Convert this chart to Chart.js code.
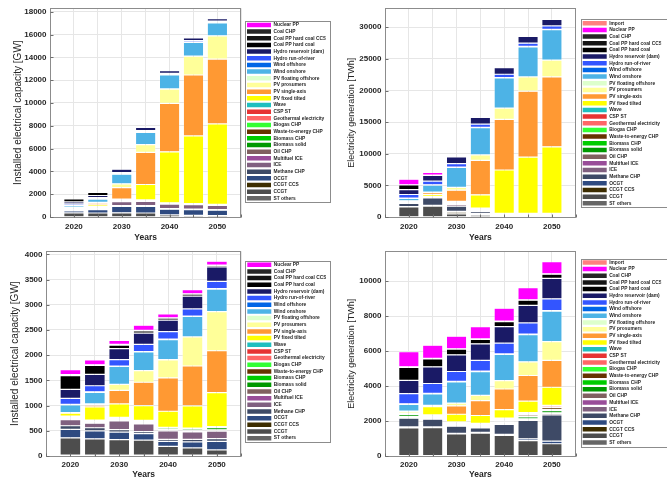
<!DOCTYPE html>
<html>
<head>
<meta charset="utf-8">
<script src="https://cdn.jsdelivr.net/npm/chart.js@4.4.1/dist/chart.umd.min.js"></script>
<style>
  html, body { margin: 0; padding: 0; background: #fff; }
  #wrap { position: relative; width: 667px; height: 479px; overflow: hidden; }
  canvas { position: absolute; }
</style>
</head>
<body>
<div id="wrap">
  <canvas id="capTopChart" width="335" height="243" style="left:0;top:0"></canvas>
  <canvas id="genTopChart" width="332" height="243" style="left:335px;top:0"></canvas>
  <canvas id="capBotChart" width="335" height="236" style="left:0;top:243px"></canvas>
  <canvas id="genBotChart" width="332" height="236" style="left:335px;top:243px"></canvas>
</div>
<script>
const years = [2020, 2025, 2030, 2035, 2040, 2045, 2050];

// stacking order, bottom to top (legend shows it reversed)
const techNames = [
  "ST others", "CCGT", "CCGT CCS", "OCGT", "Methane CHP", "ICE", "Multifuel ICE", "Oil CHP",
  "Biomass solid", "Biomass CHP", "Waste-to-energy CHP", "Biogas CHP", "Geothermal electricity",
  "CSP ST", "Wave", "PV fixed tilted", "PV single-axis", "PV prosumers", "PV floating offshore",
  "Wind onshore", "Wind offshore", "Hydro run-of-river", "Hydro reservoir (dam)",
  "Coal PP hard coal", "Coal PP hard coal CCS", "Coal CHP", "Nuclear PP", "Import"
];
const techColors = [
  "#666666", "#4d4d4d", "#3d2d00", "#2e4a80", "#3e4a66", "#806080", "#994d99", "#806060",
  "#009900", "#00cc00", "#663300", "#33ff33", "#ff6666",
  "#e63333", "#1fbfbf", "#ffff00", "#ff9933", "#ffff99", "#ddffcc",
  "#4db3e6", "#0066e6", "#3355ff", "#1a1a66",
  "#000000", "#141414", "#262626", "#ff00ff", "#ff8080"
];

// installed capacity [GW], upper chart, one row per technology
const capTop = [
  [20, 20, 20, 20, 20, 20, 20],
  [340, 330, 350, 330, 160, 130, 110],
  [0, 0, 0, 0, 0, 0, 0],
  [170, 300, 550, 580, 500, 500, 460],
  [70, 60, 70, 60, 50, 50, 50],
  [120, 100, 350, 380, 400, 380, 380],
  [10, 20, 60, 40, 60, 50, 50],
  [20, 10, 20, 10, 10, 10, 10],
  [20, 30, 30, 30, 20, 15, 15],
  [5, 10, 10, 10, 5, 5, 5],
  [5, 10, 10, 10, 5, 5, 5],
  [5, 10, 10, 10, 5, 5, 5],
  [5, 10, 10, 10, 5, 5, 5],
  [3, 5, 10, 10, 5, 5, 5],
  [0, 0, 0, 0, 0, 0, 0],
  [55, 150, 60, 1350, 4470, 5930, 7040],
  [5, 150, 1020, 2820, 4255, 5340, 5690],
  [10, 60, 330, 670, 1250, 1650, 2030],
  [0, 0, 5, 10, 10, 10, 10],
  [150, 300, 840, 1070, 1220, 1190, 1130],
  [10, 30, 30, 40, 40, 40, 40],
  [120, 100, 100, 120, 110, 120, 110],
  [180, 180, 300, 280, 230, 250, 230],
  [270, 280, 0, 0, 0, 0, 0],
  [0, 0, 0, 0, 0, 0, 0],
  [20, 40, 0, 0, 0, 0, 0],
  [100, 30, 0, 0, 0, 0, 0]
];

// electricity generation [TWh], upper chart
const genTop = [
  [30, 30, 30, 30, 0, 0, 0],
  [1570, 1700, 470, 270, 10, 10, 10],
  [0, 0, 250, 170, 0, 0, 0],
  [60, 100, 150, 100, 10, 10, 10],
  [500, 1200, 800, 300, 20, 20, 20],
  [60, 50, 250, 150, 10, 10, 10],
  [20, 20, 100, 100, 10, 10, 10],
  [20, 20, 50, 30, 10, 10, 10],
  [120, 50, 100, 120, 200, 200, 200],
  [40, 20, 50, 60, 80, 80, 80],
  [20, 20, 30, 20, 20, 20, 20],
  [10, 10, 20, 20, 20, 20, 20],
  [10, 20, 30, 30, 150, 150, 150],
  [5, 5, 10, 10, 30, 30, 30],
  [0, 0, 0, 0, 0, 0, 0],
  [80, 300, 150, 2100, 6860, 8900, 10530],
  [10, 300, 1750, 5450, 8010, 10420, 11050],
  [15, 100, 450, 840, 1780, 2250, 2660],
  [0, 0, 10, 10, 10, 10, 10],
  [380, 1100, 3150, 4300, 4760, 4760, 4810],
  [30, 50, 50, 50, 60, 60, 60],
  [580, 580, 550, 530, 520, 520, 520],
  [760, 900, 1050, 1050, 1050, 1050, 1050],
  [740, 50, 0, 0, 0, 0, 0],
  [0, 0, 0, 0, 0, 0, 0],
  [40, 20, 0, 0, 0, 0, 0],
  [870, 400, 0, 0, 0, 0, 0],
  [10, 10, 0, 0, 0, 0, 0]
];

// installed capacity [GW], lower chart
const capBot = [
  [20, 20, 20, 20, 20, 20, 20],
  [340, 320, 305, 295, 170, 140, 100],
  [0, 0, 0, 0, 0, 0, 0],
  [170, 160, 150, 130, 100, 120, 170],
  [70, 60, 50, 40, 40, 50, 55],
  [120, 90, 170, 150, 170, 150, 150],
  [10, 10, 15, 15, 15, 15, 15],
  [20, 10, 15, 15, 10, 10, 10],
  [20, 25, 25, 25, 25, 30, 40],
  [5, 5, 5, 5, 5, 5, 10],
  [5, 3, 3, 3, 3, 3, 3],
  [5, 2, 2, 2, 2, 2, 2],
  [5, 5, 5, 5, 5, 5, 5],
  [3, 3, 3, 3, 3, 5, 5],
  [0, 0, 0, 0, 0, 0, 0],
  [55, 260, 265, 290, 320, 440, 670],
  [5, 35, 270, 465, 660, 790, 833],
  [10, 25, 115, 230, 360, 575, 775],
  [0, 0, 2, 2, 2, 2, 2],
  [150, 230, 355, 368, 400, 405, 445],
  [10, 10, 10, 10, 10, 10, 10],
  [120, 120, 125, 140, 145, 140, 145],
  [180, 225, 220, 225, 230, 255, 285],
  [270, 180, 70, 45, 40, 40, 30],
  [0, 0, 0, 0, 0, 0, 0],
  [20, 10, 15, 10, 5, 5, 5],
  [100, 100, 80, 100, 80, 80, 80]
];

// electricity generation [TWh], lower chart
const genBot = [
  [30, 30, 30, 30, 30, 30, 30],
  [1570, 1590, 1230, 1280, 1150, 850, 670],
  [0, 0, 0, 0, 0, 0, 0],
  [60, 40, 40, 40, 60, 100, 150],
  [500, 440, 400, 260, 560, 1050, 1500],
  [60, 50, 40, 40, 50, 60, 80],
  [20, 20, 20, 20, 20, 20, 20],
  [20, 20, 20, 20, 20, 20, 20],
  [120, 80, 60, 50, 80, 100, 120],
  [40, 30, 30, 30, 40, 50, 60],
  [20, 20, 40, 60, 70, 90, 110],
  [10, 10, 10, 10, 20, 20, 30],
  [10, 10, 20, 20, 60, 70, 90],
  [5, 5, 5, 5, 10, 20, 20],
  [0, 0, 0, 0, 0, 0, 0],
  [80, 480, 440, 450, 480, 660, 1030],
  [10, 40, 480, 850, 1180, 1460, 1540],
  [15, 30, 150, 300, 480, 780, 1070],
  [0, 0, 5, 5, 5, 5, 5],
  [380, 650, 1220, 1350, 1490, 1550, 1740],
  [30, 30, 30, 30, 30, 30, 30],
  [580, 570, 560, 620, 620, 640, 670],
  [760, 950, 950, 940, 940, 1000, 1170],
  [740, 450, 330, 260, 290, 300, 240],
  [0, 0, 0, 0, 0, 0, 0],
  [40, 30, 20, 20, 20, 20, 20],
  [870, 760, 720, 700, 740, 700, 700],
  [10, 10, 10, 10, 10, 10, 0]
];

const FONT = "'Liberation Sans', Arial, Helvetica, sans-serif";
const TEXT = "#262626";

// axes box with short inward ticks, legend frame, and legend placement
const frames = {
  id: "frames",
  afterLayout(chart, args, o) {
    const lg = chart.legend;
    const pad = lg.options.labels.padding;
    const w = lg.width, h = lg.height;
    lg.left = o.lx - pad; lg.right = lg.left + w;
    lg.top = o.ly - pad; lg.bottom = lg.top + h;
  },
  afterDraw(chart, args, o) {
    const { ctx, chartArea: a, scales } = chart;
    const L = Math.round(a.left) + 0.5, T = Math.round(a.top) + 0.5;
    const R = Math.round(a.right) - 0.5, B = Math.round(a.bottom) + 0.5;
    ctx.save();
    ctx.strokeStyle = "#8c8c8c";
    ctx.lineWidth = 1;
    ctx.strokeRect(L, T, R - L, B - T);
    ctx.strokeStyle = "#6e6e6e";
    ctx.beginPath();
    scales.y.ticks.forEach((t) => {
      const y = Math.round(scales.y.getPixelForValue(t.value)) + 0.5;
      ctx.moveTo(L, y); ctx.lineTo(L + 3, y);
    });
    scales.x.ticks.forEach((t) => {
      const x = Math.round(scales.x.getPixelForValue(t.value)) + 0.5;
      ctx.moveTo(x, B); ctx.lineTo(x, B - 3);
    });
    ctx.stroke();
    ctx.strokeStyle = "#8c8c8c";
    const hb = chart.legend.legendHitBoxes;
    const t = hb[0].top, b = hb[hb.length - 1].top + hb[hb.length - 1].height;
    ctx.strokeRect(Math.round(o.lx - 2) + 0.5, Math.round(t - 1.5) + 0.5, o.lw, Math.round(b - t + 3));
    ctx.restore();
  }
};

function makeChart(id, rows, yTitle, yTitleSize, yMax, yStep, g) {
  const pad = { left: 0, top: g.top, right: 0, bottom: 0 };
  const datasets = rows.map((vals, i) => ({
    label: techNames[i],
    data: years.map((yr, j) => ({ x: yr, y: vals[j] })),
    backgroundColor: techColors[i],
    borderColor: "rgba(255,255,255,0.55)",
    borderWidth: 0.6,
    borderSkipped: false,
    barPercentage: 0.85,
    categoryPercentage: 1
  }));

  const ch = new Chart(id, {
    type: "bar",
    data: { datasets: datasets },
    options: {
      responsive: false,
      animation: false,
      devicePixelRatio: 1,
      layout: { padding: pad },
      plugins: {
        tooltip: { enabled: false },
        legend: {
          position: "right",
          align: "start",
          reverse: true,
          labels: {
            boxWidth: 24,
            boxHeight: 4.5,
            padding: 1.82,
            color: TEXT,
            font: { family: FONT, size: 4.85, weight: "bold" },
            generateLabels: function (c) {
              return Chart.defaults.plugins.legend.labels.generateLabels(c).map(function (l) {
                l.lineWidth = 0;
                l.strokeStyle = "rgba(0,0,0,0)";
                return l;
              });
            }
          }
        },
        frames: { lx: g.lx, ly: g.ly, lw: g.lw }
      },
      scales: {
        x: {
          type: "linear",
          stacked: true,
          min: 2015,
          max: 2055,
          offset: false,
          grid: { color: "#e6e6e6", drawTicks: false, offset: false },
          border: { display: false },
          ticks: {
            stepSize: 5,
            autoSkip: false,
            maxRotation: 0,
            padding: g.xTickPad,
            color: TEXT,
            font: { family: FONT, size: 8, weight: "bold" },
            callback: (v) => (v % 10 === 0 ? String(v) : "")
          },
          title: {
            display: true,
            text: "Years",
            color: TEXT,
            font: { family: FONT, size: 8.5, weight: "bold", lineHeight: 1 },
            padding: { top: 0, bottom: g.xTitlePad }
          },
          afterFit: (s) => { s.height = g.xH; }
        },
        y: {
          stacked: true,
          min: 0,
          max: yMax,
          grid: { color: "#e6e6e6", drawTicks: false },
          border: { display: false },
          ticks: {
            autoSkip: false,
            padding: 3.5,
            color: TEXT,
            font: { family: FONT, size: 8, weight: "bold" },
            callback: (v) => String(v)
          },
          afterBuildTicks: (s) => {
            const t = [];
            for (let v = 0; v <= yMax; v += yStep) t.push({ value: v });
            s.ticks = t;
          },
          title: {
            display: true,
            text: yTitle,
            color: TEXT,
            font: { family: FONT, size: yTitleSize },
            padding: { top: g.yTitlePad, bottom: 0 }
          },
          afterFit: (s) => { s.width = g.yW; }
        }
      }
    },
    plugins: [frames]
  });

  // second pass so the plot ends where the reference plot ends
  const diff = ch.chartArea.right - g.right;
  if (Math.abs(diff) > 0.05) {
    pad.right += diff;
    ch.update();
  }
  return ch;
}

document.addEventListener("DOMContentLoaded", function () {
  makeChart("capTopChart", capTop, "Installed electrical capacity [GW]", 10, 18300, 2000,
    { top: 8, yW: 50, right: 238, xH: 26, xTickPad: 4.5, xTitlePad: 1.5, yTitlePad: 12, lx: 247, ly: 22.5, lw: 85 });
  makeChart("genTopChart", genTop, "Electricity generation [TWh]", 9, 33000, 5000,
    { top: 8, yW: 50, right: 238, xH: 26, xTickPad: 4.5, xTitlePad: 1.5, yTitlePad: 11.6, lx: 247.7, ly: 20.8, lw: 86 });
  makeChart("capBotChart", capBot, "Installed electrical capacity [GW]", 10, 4060, 500,
    { top: 3, yW: 46, right: 238, xH: 23, xTickPad: 3.5, xTitlePad: 0, yTitlePad: 9, lx: 247.3, ly: 19.3, lw: 85 });
  makeChart("genBotChart", genBot, "Electricity generation [TWh]", 9, 11700, 2000,
    { top: 3, yW: 50, right: 238, xH: 23, xTickPad: 3.5, xTitlePad: 0, yTitlePad: 11.6, lx: 247.7, ly: 17, lw: 86 });
});
</script>
</body>
</html>
